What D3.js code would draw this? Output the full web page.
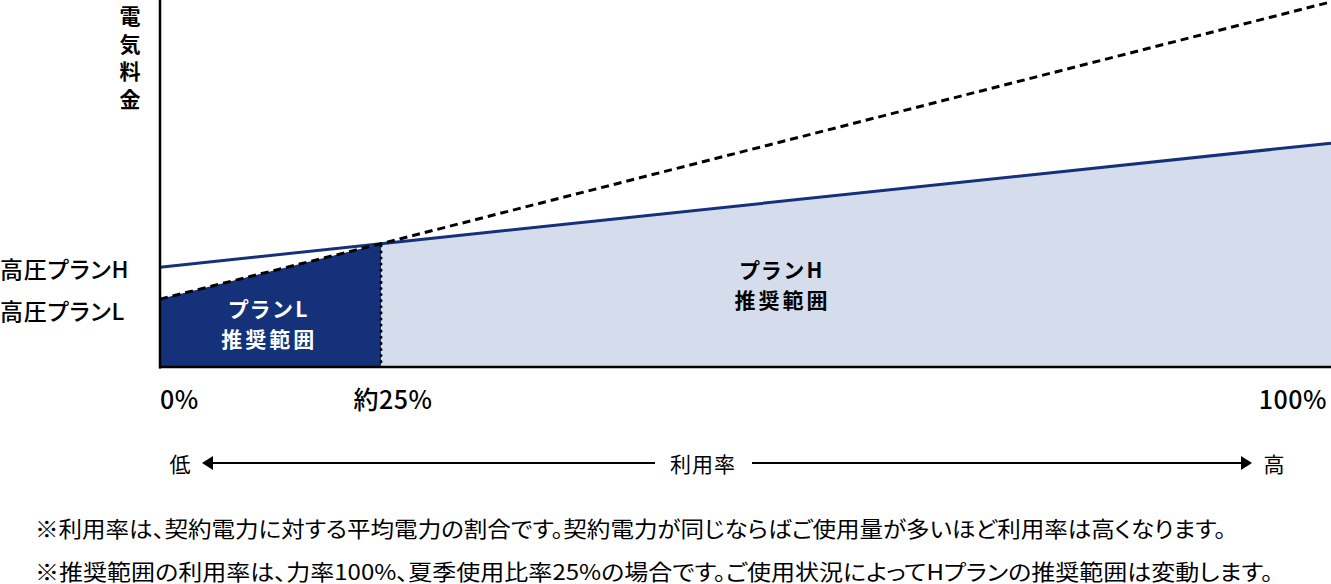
<!DOCTYPE html>
<html lang="ja">
<head>
<meta charset="utf-8">
<script src="https://cdn.jsdelivr.net/npm/d3@7"></script>
<style>
  body { margin: 0; background: #fff; }
  svg { display: block; font-family: "Noto Sans CJK JP", "Noto Sans", sans-serif; font-feature-settings: "palt"; }
</style>
</head>
<body>
<div id="chart"></div>
<script>
// utilisation (%) along the x axis
const usage = [0, 25, 100];
// electricity cost, arbitrary units (0-100)
const planH = [27.2, 33.6, 61.0];
const planL = [18.5, 33.6, 99.5];
const xTickLabels = ["0%", "約25%", "100%"];
const planNames = ["高圧プランH", "高圧プランL"];
const notes = [
  "※利用率は、契約電力に対する平均電力の割合です。契約電力が同じならばご使用量が多いほど利用率は高くなります。",
  "※推奨範囲の利用率は、力率100%、夏季使用比率25%の場合です。ご使用状況によってHプランの推奨範囲は変動します。"
];

const W = 1331, H = 584;
const navy = "#15317a", light = "#d5dcec";

const svg = d3.select("#chart").append("svg")
  .attr("width", W)
  .attr("height", H);

const x = d3.scaleLinear()
  .domain(usage)
  .range([160, 381, 1331]);
const y = d3.scaleLinear()
  .domain([0, 100])
  .range([367, 0]);

const ptsH = usage.map((u, i) => ({u: u, v: planH[i]}));
const ptsL = usage.map((u, i) => ({u: u, v: planL[i]}));

const area = d3.area()
  .x(d => x(d.u))
  .y0(y(0))
  .y1(d => y(d.v));
const line = d3.line()
  .x(d => x(d.u))
  .y(d => y(d.v));

// recommended ranges
svg.append("path")
  .datum(ptsH.slice(1))
  .attr("d", area)
  .attr("fill", light);
svg.append("path")
  .datum(ptsL.slice(0, 2))
  .attr("d", area)
  .attr("fill", navy);

// plan H line
svg.append("path")
  .datum(ptsH)
  .attr("d", line)
  .attr("fill", "none")
  .attr("stroke", navy)
  .attr("stroke-width", 3);

// plan L line (dashed)
svg.append("path")
  .datum(ptsL)
  .attr("d", line)
  .attr("fill", "none")
  .attr("stroke", "#000")
  .attr("stroke-width", 3)
  .attr("stroke-dasharray", "8,5");

// boundary at about 25%
svg.append("line")
  .attr("x1", x(25)).attr("x2", x(25))
  .attr("y1", y(planL[1]) + 2).attr("y2", y(0))
  .attr("stroke", "#000")
  .attr("stroke-width", 3)
  .attr("stroke-linecap", "round")
  .attr("stroke-dasharray", "0.1,6");

// axes
svg.append("line")
  .attr("x1", x(0)).attr("x2", x(0))
  .attr("y1", 0).attr("y2", y(0) + 1.5)
  .attr("stroke", "#000").attr("stroke-width", 2.5);
svg.append("line")
  .attr("x1", x(0) - 1).attr("x2", x(100))
  .attr("y1", y(0)).attr("y2", y(0))
  .attr("stroke", "#000").attr("stroke-width", 2.5);

// y title, vertical
const yTitle = "電気料金".split("");
svg.append("g").selectAll("text")
  .data(yTitle)
  .join("text")
  .attr("x", 130)
  .attr("y", (d, i) => 15 + i * 27.5)
  .attr("text-anchor", "middle")
  .attr("dominant-baseline", "central")
  .attr("font-size", 21)
  .attr("font-weight", 700)
  .text(d => d);

// plan labels at the y intercepts
svg.append("g").selectAll("text")
  .data(planNames)
  .join("text")
  .attr("x", 0)
  .attr("y", (d, i) => i == 0 ? 268 : 310)
  .attr("dominant-baseline", "central")
  .attr("font-size", 23)
  .attr("font-weight", 500)
  .attr("letter-spacing", 0.8)
  .text(d => d);

// x tick labels
svg.append("g").selectAll("text")
  .data(usage)
  .join("text")
  .attr("x", (d, i) => i == 0 ? x(d) : i == 2 ? x(d) - 4 : x(d) + 12)
  .attr("y", 398)
  .attr("text-anchor", (d, i) => i == 0 ? "start" : i == 2 ? "end" : "middle")
  .attr("dominant-baseline", "central")
  .attr("font-size", 25)
  .attr("font-weight", 500)
  .attr("letter-spacing", 0.5)
  .text((d, i) => xTickLabels[i]);

// range labels
const rangeL = svg.append("text")
  .attr("x", x(12.2)).attr("y", 317)
  .attr("text-anchor", "middle")
  .attr("fill", "#fff")
  .attr("font-size", 21)
  .attr("font-weight", 700)
  .attr("letter-spacing", 3);
rangeL.append("tspan").attr("x", x(12.2) + 1.5).attr("dy", 0).text("プランL");
rangeL.append("tspan").attr("x", x(12.2) + 1.5).attr("dy", 30).text("推奨範囲");

const rangeH = svg.append("text")
  .attr("x", 781).attr("y", 278)
  .attr("text-anchor", "middle")
  .attr("fill", "#000")
  .attr("font-size", 21)
  .attr("font-weight", 700)
  .attr("letter-spacing", 3);
rangeH.append("tspan").attr("x", 782.5).attr("dy", 0).text("プランH");
rangeH.append("tspan").attr("x", 782.5).attr("dy", 30).text("推奨範囲");

// utilisation arrow row
const ay = 463;
const arrow = svg.append("g");
arrow.append("line")
  .attr("x1", 210).attr("x2", 655)
  .attr("y1", ay).attr("y2", ay)
  .attr("stroke", "#000").attr("stroke-width", 2);
arrow.append("line")
  .attr("x1", 752).attr("x2", 1242)
  .attr("y1", ay).attr("y2", ay)
  .attr("stroke", "#000").attr("stroke-width", 2);
arrow.append("path")
  .attr("d", `M202,${ay} L213,${ay - 7} L213,${ay + 7} Z`)
  .attr("fill", "#000");
arrow.append("path")
  .attr("d", `M1252,${ay} L1241,${ay - 7} L1241,${ay + 7} Z`)
  .attr("fill", "#000");
arrow.append("text")
  .attr("x", 180).attr("y", ay)
  .attr("text-anchor", "middle").attr("dominant-baseline", "central")
  .attr("font-size", 21).text("低");
arrow.append("text")
  .attr("x", 703).attr("y", ay)
  .attr("text-anchor", "middle").attr("dominant-baseline", "central")
  .attr("font-size", 21).attr("letter-spacing", 1).text("利用率");
arrow.append("text")
  .attr("x", 1274).attr("y", ay)
  .attr("text-anchor", "middle").attr("dominant-baseline", "central")
  .attr("font-size", 21).text("高");

// notes
svg.append("g").selectAll("text")
  .data(notes)
  .join("text")
  .attr("x", 35)
  .attr("y", (d, i) => 527 + i * 43)
  .attr("dominant-baseline", "central")
  .attr("font-size", 21.5)
  .attr("font-weight", 400)
  .attr("textLength", (d, i) => i == 0 ? 1191 : 1238)
  .attr("lengthAdjust", "spacingAndGlyphs")
  .text(d => d);
</script>
</body>
</html>
